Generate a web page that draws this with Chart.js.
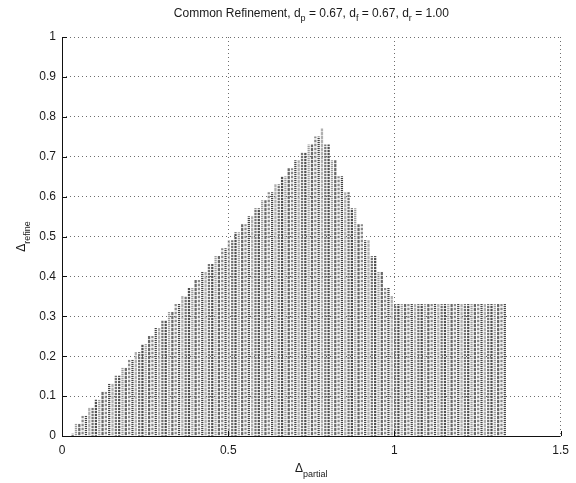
<!DOCTYPE html>
<html>
<head>
<meta charset="utf-8">
<script src="https://cdn.jsdelivr.net/npm/chart.js@4/dist/chart.umd.min.js"></script>
<style>
  html, body { margin: 0; padding: 0; background: #ffffff; }
  #wrap { width: 576px; height: 483px; }
</style>
</head>
<body>
<div id="wrap"><canvas id="chart" width="576" height="483"></canvas></div>
<script>
// Stem positions (Δ_partial) and heights (Δ_refine)
const risingX = [0.032,0.042,0.052,0.062,0.072,0.082,0.092,0.102,0.112,0.122,0.132,0.142,0.152,0.162,0.172,0.182,0.192,0.202,0.212,0.222,0.232,0.242,0.252,0.262,0.272,0.282,0.292,0.302,0.312,0.322,0.332,0.342,0.352,0.362,0.372,0.382,0.392,0.402,0.412,0.422,0.432,0.442,0.452,0.462,0.472,0.482,0.492,0.502,0.512,0.522,0.532,0.542,0.552,0.562,0.572,0.582,0.592,0.602,0.612,0.622,0.632,0.642,0.652,0.662,0.672,0.682,0.692,0.702,0.712,0.722,0.732,0.742,0.752,0.762,0.772,0.782];
const risingY = [0.005,0.03,0.03,0.05,0.05,0.07,0.07,0.09,0.09,0.11,0.11,0.13,0.13,0.15,0.15,0.17,0.17,0.19,0.19,0.21,0.21,0.23,0.23,0.25,0.25,0.27,0.27,0.29,0.29,0.31,0.31,0.33,0.33,0.35,0.35,0.37,0.37,0.39,0.39,0.41,0.41,0.43,0.43,0.45,0.45,0.47,0.47,0.49,0.49,0.51,0.51,0.53,0.53,0.55,0.55,0.57,0.57,0.59,0.59,0.61,0.61,0.63,0.63,0.65,0.65,0.67,0.67,0.69,0.69,0.71,0.71,0.73,0.73,0.75,0.75,0.77];
const fallingX = [0.792,0.802,0.812,0.822,0.832,0.842,0.852,0.862,0.872,0.882,0.892,0.902,0.912,0.922,0.932,0.942,0.952,0.962,0.972,0.982,0.992];
const fallingY = [0.73,0.73,0.69,0.69,0.65,0.65,0.61,0.61,0.57,0.57,0.53,0.53,0.49,0.49,0.45,0.45,0.41,0.41,0.37,0.37,0.35];
const plateauX = [1.002,1.012,1.022,1.032,1.042,1.052,1.062,1.072,1.082,1.092,1.102,1.112,1.122,1.132,1.142,1.152,1.162,1.172,1.182,1.192,1.202,1.212,1.222,1.232,1.242,1.252,1.262,1.272,1.282,1.292,1.302,1.312,1.322,1.332];
const plateauY = [0.33,0.33,0.33,0.33,0.33,0.33,0.33,0.33,0.33,0.33,0.33,0.33,0.33,0.33,0.33,0.33,0.33,0.33,0.33,0.33,0.33,0.33,0.33,0.33,0.33,0.33,0.33,0.33,0.33,0.33,0.33,0.33,0.33,0.33];

const xTickValues = [0, 0.5, 1, 1.5];
const xTickLabels = ['0', '0.5', '1', '1.5'];
const yTickValues = [0, 0.1, 0.2, 0.3, 0.4, 0.5, 0.6, 0.7, 0.8, 0.9, 1];
const yTickLabels = ['0', '0.1', '0.2', '0.3', '0.4', '0.5', '0.6', '0.7', '0.8', '0.9', '1'];

const titleParts = [['Common Refinement, d', 0], ['p', 1], [' = 0.67, d', 0], ['f', 1], [' = 0.67, d', 0], ['r', 1], [' = 1.00', 0]];
const xLabelParts = [['\u0394', 0], ['partial', 1]];
const yLabelParts = [['\u0394', 0], ['refine', 1]];

const stems = [];
[[risingX, risingY], [fallingX, fallingY], [plateauX, plateauY]].forEach(([xs, ys]) => {
  xs.forEach((x, i) => stems.push({ x: x, y: ys[i] }));
});

// dotted stem textures: runs of dark pixels broken by pale ones,
// with different periods so neighbouring stems do not line up
const stemStyles = [
  ['#505050', 2, 1], ['#9a9a9a', 1, 1], ['#6a6a6a', 3, 1],
  ['#8a8a8a', 2, 2], ['#444444', 1, 1], ['#b0b0b0', 3, 1], ['#737373', 2, 1]
];
const stemPatterns = stemStyles.map(([c, on, off]) => {
  const pc = document.createElement('canvas');
  pc.width = 1; pc.height = on + off;
  const g = pc.getContext('2d');
  g.fillStyle = '#dedede'; g.fillRect(0, 0, 1, on + off);
  g.fillStyle = c; g.fillRect(0, 0, 1, on);
  return g.createPattern(pc, 'repeat');
});

const FONT = '"Liberation Sans", Arial, Helvetica, sans-serif';

function drawParts(ctx, parts, size, subSize, subDrop) {
  const widths = parts.map(([t, s]) => {
    ctx.font = (s ? subSize : size) + 'px ' + FONT;
    return ctx.measureText(t).width;
  });
  const total = widths.reduce((a, b) => a + b, 0);
  let x = -total / 2;
  parts.forEach(([t, s], i) => {
    ctx.font = (s ? subSize : size) + 'px ' + FONT;
    ctx.fillText(t, x, s ? subDrop : 0);
    x += widths[i];
  });
}

const axesPlugin = {
  id: 'matlabAxes',
  afterDraw(chart) {
    const ctx = chart.ctx;
    const xs = chart.scales.x, ys = chart.scales.y;
    const L = xs.left, R = xs.right, T = ys.top, B = ys.bottom;
    ctx.save();
    ctx.strokeStyle = '#111111';
    ctx.lineWidth = 1;
    ctx.beginPath();
    ctx.moveTo(Math.round(L) + 0.5, T);
    ctx.lineTo(Math.round(L) + 0.5, Math.round(B) + 0.5);
    ctx.lineTo(R, Math.round(B) + 0.5);
    // inward tick marks
    yTickValues.forEach(v => {
      const py = Math.round(ys.getPixelForValue(v)) + 0.5;
      ctx.moveTo(L, py); ctx.lineTo(L + 5, py);
    });
    xTickValues.forEach(v => {
      const px = Math.round(xs.getPixelForValue(v)) + 0.5;
      ctx.moveTo(px, B); ctx.lineTo(px, B - 5);
    });
    ctx.stroke();

    ctx.fillStyle = '#1a1a1a';
    ctx.textBaseline = 'alphabetic';
    ctx.textAlign = 'left';
    // title
    ctx.save();
    ctx.translate((L + R) / 2, 17);
    drawParts(ctx, titleParts, 12, 9, 4);
    ctx.restore();
    // x axis label
    ctx.save();
    ctx.translate((L + R) / 2, 472);
    drawParts(ctx, xLabelParts, 12, 9, 5);
    ctx.restore();
    // y axis label
    ctx.save();
    ctx.translate(25, (T + B) / 2);
    ctx.rotate(-Math.PI / 2);
    drawParts(ctx, yLabelParts, 12, 9, 5);
    ctx.restore();
    ctx.restore();
  }
};

new Chart(document.getElementById('chart'), {
  type: 'bar',
  data: {
    datasets: [{
      data: stems,
      barThickness: 1.6,
      borderWidth: 0,
      backgroundColor: c => stemPatterns[c.dataIndex % stemPatterns.length]
    }]
  },
  options: {
    responsive: false,
    devicePixelRatio: 1,
    animation: false,
    layout: { padding: { left: 0, top: 37, right: 14, bottom: 0 } },
    plugins: { legend: { display: false }, tooltip: { enabled: false }, title: { display: false } },
    scales: {
      x: {
        type: 'linear',
        min: 0, max: 1.5,
        offset: false,
        afterBuildTicks: s => { s.ticks = xTickValues.map(v => ({ value: v })); },
        afterFit: s => { s.height = 47; },
        grid: { color: '#6e6e6e', lineWidth: 1, drawTicks: false, offset: false, z: 1 },
        border: { display: false, dash: [1, 3] },
        ticks: {
          padding: 7,
          color: '#1a1a1a',
          font: { family: FONT, size: 12 },
          maxRotation: 0,
          callback: (v, i) => xTickLabels[i]
        }
      },
      y: {
        type: 'linear',
        min: 0, max: 1,
        afterBuildTicks: s => { s.ticks = yTickValues.map(v => ({ value: v })); },
        afterFit: s => { s.width = 62; },
        grid: { color: '#6e6e6e', lineWidth: 1, drawTicks: false, z: 1 },
        border: { display: false, dash: [1, 3] },
        ticks: {
          padding: 6,
          color: '#1a1a1a',
          font: { family: FONT, size: 12 },
          callback: (v, i) => yTickLabels[i]
        }
      }
    }
  },
  plugins: [axesPlugin]
});
</script>
</body>
</html>
